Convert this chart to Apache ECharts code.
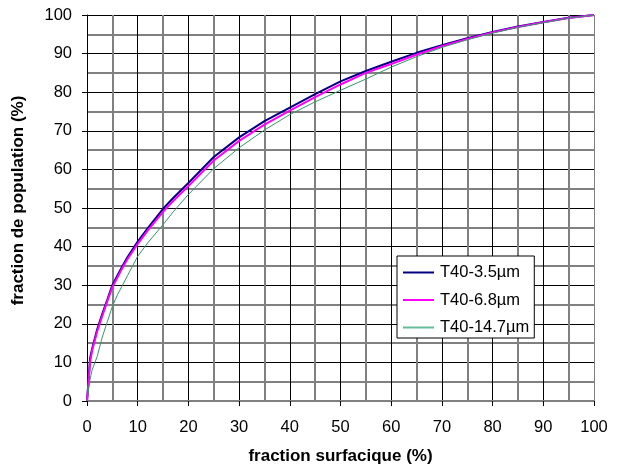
<!DOCTYPE html>
<html><head><meta charset="utf-8">
<script src="https://cdn.jsdelivr.net/npm/echarts@6/dist/echarts.min.js"></script>
<style>html,body{margin:0;padding:0;background:#fff}#c{width:618px;height:470px}</style>
</head><body><div id="c"></div>
<script>
const seriesNames = ['T40-3.5µm', 'T40-6.8µm', 'T40-14.7µm'];
const xBlue = [0,0.3,0.6,1,2,3,4,5,6,7,8,10,12,15,17,20,25,30,35,40,45,50,55,60,65,70,75,80,85,90,95,100];
const yBlue = [0,5,11,13.5,18.5,22.5,26.2,30,32.5,35,37.3,41.3,44.8,49.8,52.6,56.5,63.2,68.3,72.5,76,79.5,82.8,85.5,87.9,90.2,92.2,94,95.6,97,98.2,99.3,100];
const xMag = [0,0.3,0.6,1,2,3,4,5,6,7,8,10,12,15,17,20,25,30,35,40,45,50,55,60,65,70,75,80,85,90,95,100];
const yMag = [0,5,10,13,18,22,25.8,29.5,32,34.5,36.8,40.7,44.2,49,51.8,55.7,62.3,67.4,71.6,75.2,78.7,82,85,87.3,89.7,91.9,93.8,95.5,96.9,98.1,99.2,100];
const xGreen = [0,0.5,1,2,3,4,5,6,7,8,10,12,15,17,20,25,30,35,40,45,50,55,60,65,70,75,80,85,90,95,100];
const yGreen = [0,5,8,11.5,16.5,20.5,24.5,27.5,30,32.5,37.5,41,45.7,49,53.5,60.2,65.6,70.2,74.2,77.5,80.5,83.4,86.5,89.2,91.6,93.6,95.3,96.8,98,99.2,100];
const xTicks = [0,10,20,30,40,50,60,70,80,90,100];
const yTicks = [0,10,20,30,40,50,60,70,80,90,100];

const zip = (xs, ys) => xs.map((x, i) => [x, ys[i]]);
const font = '"Liberation Sans", Arial, sans-serif';
const chart = echarts.init(document.getElementById('c'), null, {renderer: 'canvas'});
const axisCommon = {
  type: 'value', interval: 10,
  axisLine: {show: true, lineStyle: {color: '#000', width: 1}},
  axisTick: {show: true, length: 5, lineStyle: {color: '#000'}},
  splitLine: {show: true, lineStyle: {color: '#000', width: 1}},
  minorTick: {show: false, splitNumber: 2},
  minorSplitLine: {show: true, lineStyle: {color: '#808080', width: 2}},
  nameLocation: 'middle',
  nameTextStyle: {color: '#000', fontSize: 17, fontWeight: 'bold', fontFamily: font}
};
chart.setOption({
  animation: false,
  backgroundColor: '#fff',
  grid: {left: 87, right: 24, top: 15, bottom: 66, containLabel: false},
  xAxis: Object.assign({}, axisCommon, {
    min: xTicks[0], max: xTicks[xTicks.length - 1],
    name: 'fraction surfacique (%)', nameGap: 47,
    axisLine: {show: true, lineStyle: {color: '#808080', width: 2}},
    splitLine: {show: true, lineStyle: {color: ['#000','#000','#000','#000','#000','#000','#000','#000','#000','#000','#808080'], width: 1}},
    axisLabel: {color: '#000', fontSize: 16.5, fontFamily: font, margin: 18}
  }),
  yAxis: Object.assign({}, axisCommon, {
    min: yTicks[0], max: yTicks[yTicks.length - 1],
    name: 'fraction de population (%)', nameGap: 60,
    nameTextStyle: {color: '#000', fontSize: 17, fontWeight: 'bold', fontFamily: font, padding: [0, 0, 0, 15]},
    axisLabel: {color: '#000', fontSize: 16.5, fontFamily: font, margin: 15}
  }),
  legend: {
    show: true, orient: 'vertical', left: 397, top: 256,
    backgroundColor: '#fff', borderColor: '#000', borderWidth: 1,
    padding: [8, 5, 2, 6], itemGap: 10.5, itemWidth: 31, itemHeight: 2,
    itemStyle: {borderWidth: 0},
    icon: 'rect',
    textStyle: {color: '#000', fontSize: 16.5, fontFamily: font, padding: [0, 0, 0, 1]},
    data: seriesNames
  },
  series: [
    {name: seriesNames[0], type: 'line', data: zip(xBlue, yBlue), showSymbol: false, symbol: 'none', lineStyle: {color: '#000080', width: 2}, itemStyle: {color: '#000080'}},
    {name: seriesNames[1], type: 'line', data: zip(xMag, yMag), showSymbol: false, symbol: 'none', lineStyle: {color: '#ff00ff', width: 2}, itemStyle: {color: '#ff00ff'}},
    {name: seriesNames[2], type: 'line', data: zip(xGreen, yGreen), showSymbol: false, symbol: 'none', lineStyle: {color: '#339966', width: 1}, itemStyle: {color: '#66bb99'}}
  ]
});
</script>
</body></html>
